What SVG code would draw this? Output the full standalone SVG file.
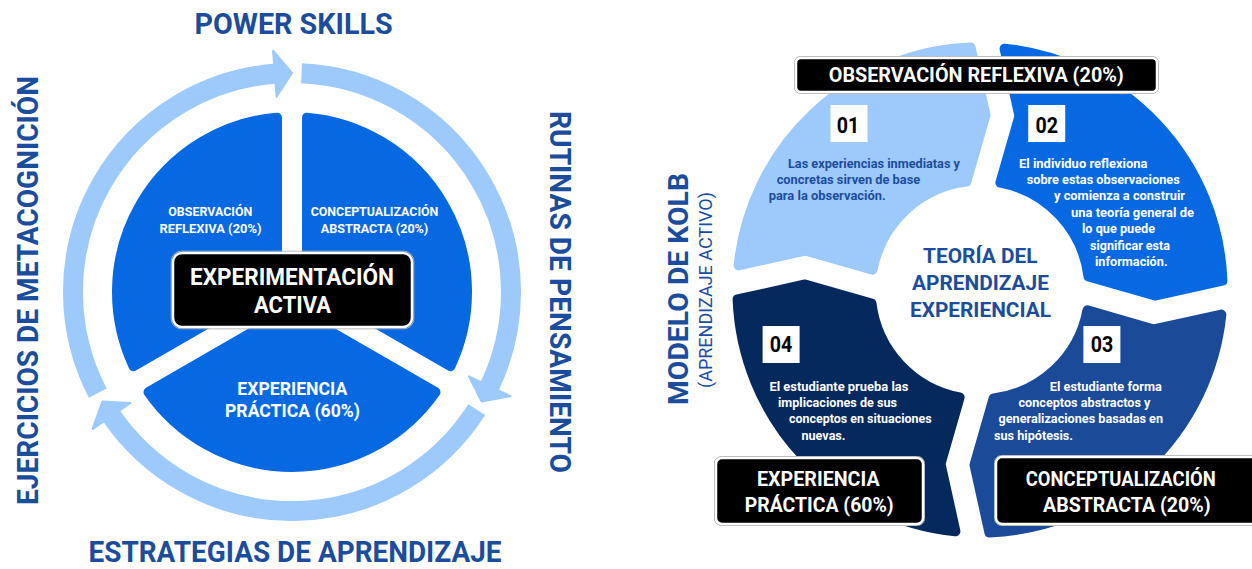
<svg xmlns="http://www.w3.org/2000/svg" width="1252" height="569" viewBox="0 0 1252 569">
<style>
.f{font-family:Roboto,"Liberation Sans",sans-serif;font-weight:700}
.n{font-family:Roboto,"Liberation Sans",sans-serif;font-weight:400}
.title{fill:#1c4d9c;font-size:29px}
.w{fill:#fff}
.k{fill:#000}
.mid{text-anchor:middle}
.ring{fill:none;stroke:#9dc9fb;stroke-width:20;stroke-linecap:butt}
.head{fill:#9dc9fb;stroke:#9dc9fb;stroke-width:2;stroke-linejoin:round}
.pie{fill:#0669e2;stroke:#0669e2;stroke-width:10;stroke-linejoin:round}
.bx{fill:#000;stroke:#fff;stroke-width:2.5}
.bxo{fill:none;stroke:#a9a9a9;stroke-width:1}
.body{font-size:12.5px}
.seg{stroke-width:10;stroke-linejoin:round}
</style>

<!-- LEFT DIAGRAM -->
<g id="title-power-skills"><text class="f title mid" x="293.6" y="34" textLength="198" lengthAdjust="spacingAndGlyphs">POWER SKILLS</text></g>
<g id="title-estrategias"><text class="f title mid" x="295" y="562" font-size="28" textLength="413" lengthAdjust="spacingAndGlyphs">ESTRATEGIAS DE APRENDIZAJE</text></g>
<g id="title-ejercicios"><text class="f title mid" transform="translate(37.5,290.5) rotate(-90)" x="0" y="0" textLength="429" lengthAdjust="spacingAndGlyphs">EJERCICIOS DE METACOGNICIÓN</text></g>
<g id="title-rutinas"><text class="f title mid" transform="translate(549.6,292) rotate(90)" x="0" y="0" textLength="362" lengthAdjust="spacingAndGlyphs">RUTINAS DE PENSAMIENTO</text></g>

<g id="connectors">
  <path class="ring" d="M 97.74,393.12 A 219 219 0 0 1 276.72,73.53"/>
  <polygon class="head" points="276.62,96.60 273.01,50.75 292,73"/>
  <path class="ring" d="M 301.55,73.21 A 219 219 0 0 1 488.84,388.00"/>
  <polygon class="head" points="468.91,376.38 510.43,396.18 481.66,401.5"/>
  <path class="ring" d="M 476.70,409.67 A 219 219 0 0 1 110.44,414.46"/>
  <polygon class="head" points="130.47,403.02 92.56,429.07 102.34,401.5"/>
</g>

<g id="pie-observacion">
  <path class="pie" d="M 277.0,283.34 L 133.50,366.18 A 175 175 0 0 1 276.99,117.64 Z"/>
  <text class="f w mid" font-size="13" x="210.3" y="216" textLength="84" lengthAdjust="spacingAndGlyphs">OBSERVACIÓN</text>
  <text class="f w mid" font-size="13" x="210.5" y="233.3" textLength="102" lengthAdjust="spacingAndGlyphs">REFLEXIVA (20%)</text>
</g>
<g id="pie-conceptualizacion">
  <path class="pie" d="M 307,283.34 L 307.01,117.64 A 175 175 0 0 1 450.50,366.18 Z"/>
  <text class="f w mid" font-size="13" x="374.5" y="216" textLength="127.6" lengthAdjust="spacingAndGlyphs">CONCEPTUALIZACIÓN</text>
  <text class="f w mid" font-size="13" x="374.5" y="233.3" textLength="107.6" lengthAdjust="spacingAndGlyphs">ABSTRACTA (20%)</text>
</g>
<g id="pie-experiencia">
  <path class="pie" d="M 292,309.32 L 435.49,392.17 A 175 175 0 0 1 148.51,392.17 Z"/>
  <text class="f w mid" font-size="19" x="292.3" y="395" textLength="110" lengthAdjust="spacingAndGlyphs">EXPERIENCIA</text>
  <text class="f w mid" font-size="19" x="292.5" y="417.3" textLength="135" lengthAdjust="spacingAndGlyphs">PRÁCTICA (60%)</text>
</g>
<g id="box-experimentacion">
  <rect class="bxo" x="171.2" y="251.2" width="242.6" height="77.6" rx="10"/>
  <rect class="bx" x="173" y="253" width="239" height="74" rx="9"/>
  <text class="f w mid" font-size="23.5" x="292" y="285" textLength="204" lengthAdjust="spacingAndGlyphs">EXPERIMENTACIÓN</text>
  <text class="f w mid" font-size="23.5" x="292.5" y="313.3" textLength="77" lengthAdjust="spacingAndGlyphs">ACTIVA</text>
</g>

<!-- RIGHT DIAGRAM -->
<g id="title-kolb">
  <text class="f mid" fill="#1c4d9c" font-size="28" transform="translate(688,289) rotate(-90)" x="0" y="0" textLength="232" lengthAdjust="spacingAndGlyphs">MODELO DE KOLB</text>
  <text class="n mid" fill="#1c4d9c" font-size="18" transform="translate(712,290) rotate(-90)" x="0" y="0" textLength="196" lengthAdjust="spacingAndGlyphs">(APRENDIZAJE ACTIVO)</text>
</g>

<g id="seg-01">
  <path class="seg" fill="#9dc9fb" stroke="#9dc9fb" d="M 738.65,265.41 A 242.6 242.6 0 0 1 970.61,47.59 L 985.50,115.09 L 966.40,181.52 A 109.3 109.3 0 0 0 872.58,269.62 L 805.16,250.52 Z"/>
  <rect x="830.5" y="105" width="37" height="37" fill="#fff"/>
  <text class="f k mid" font-size="22" x="848" y="133" textLength="22.5" lengthAdjust="spacingAndGlyphs">01</text>
  <g class="f body" fill="#1c4d9c">
    <text x="788" y="167.7" textLength="172" lengthAdjust="spacingAndGlyphs">Las experiencias inmediatas y</text>
    <text x="776.7" y="184" textLength="143.5" lengthAdjust="spacingAndGlyphs">concretas sirven de base</text>
    <text x="768.7" y="200" textLength="117" lengthAdjust="spacingAndGlyphs">para la observación.</text>
  </g>
</g>
<g id="seg-02">
  <path class="seg" fill="#0669e2" stroke="#0669e2" d="M 1004.59,48.65 A 242.6 242.6 0 0 1 1222.41,280.61 L 1154.91,295.50 L 1088.48,276.40 A 109.3 109.3 0 0 0 1000.38,182.58 L 1019.48,116.16 Z"/>
  <rect x="1028.2" y="105" width="37" height="37" fill="#fff"/>
  <text class="f k mid" font-size="22" x="1046.7" y="133" textLength="22.5" lengthAdjust="spacingAndGlyphs">02</text>
  <g class="f body w">
    <text x="1019" y="167.7" textLength="128.5" lengthAdjust="spacingAndGlyphs">El individuo reflexiona</text>
    <text x="1026.7" y="184" textLength="153" lengthAdjust="spacingAndGlyphs">sobre estas observaciones</text>
    <text x="1054" y="200" textLength="131" lengthAdjust="spacingAndGlyphs">y comienza a construir</text>
    <text x="1071" y="216.7" textLength="123" lengthAdjust="spacingAndGlyphs">una teoría general de</text>
    <text x="1082" y="233.3" textLength="73" lengthAdjust="spacingAndGlyphs">lo que puede</text>
    <text x="1090" y="250" textLength="80" lengthAdjust="spacingAndGlyphs">significar esta</text>
    <text x="1095" y="266" textLength="72.6" lengthAdjust="spacingAndGlyphs">información.</text>
  </g>
</g>
<g id="seg-03">
  <path class="seg" fill="#1b4a98" stroke="#1b4a98" d="M 1221.35,314.59 A 242.6 242.6 0 0 1 989.39,532.41 L 974.50,464.91 L 993.60,398.48 A 109.3 109.3 0 0 0 1087.42,310.38 L 1153.84,329.48 Z"/>
  <rect x="1083.4" y="326" width="37" height="37" fill="#fff"/>
  <text class="f k mid" font-size="22" x="1102" y="352" textLength="22.5" lengthAdjust="spacingAndGlyphs">03</text>
  <g class="f body w">
    <text x="1049.8" y="391" textLength="112" lengthAdjust="spacingAndGlyphs">El estudiante forma</text>
    <text x="1018.5" y="407.3" textLength="132" lengthAdjust="spacingAndGlyphs">conceptos abstractos y</text>
    <text x="998.5" y="423.3" textLength="164.5" lengthAdjust="spacingAndGlyphs">generalizaciones basadas en</text>
    <text x="994" y="440" textLength="79" lengthAdjust="spacingAndGlyphs">sus hipótesis.</text>
  </g>
</g>
<g id="seg-04">
  <path class="seg" fill="#05295d" stroke="#05295d" d="M 955.41,531.35 A 242.6 242.6 0 0 1 737.59,299.39 L 805.09,284.50 L 871.52,303.60 A 109.3 109.3 0 0 0 959.62,397.42 L 940.52,463.84 Z"/>
  <rect x="762.6" y="326" width="37" height="37" fill="#fff"/>
  <text class="f k mid" font-size="22" x="781" y="352" textLength="22.5" lengthAdjust="spacingAndGlyphs">04</text>
  <g class="f body w">
    <text x="769.4" y="391" textLength="139" lengthAdjust="spacingAndGlyphs">El estudiante prueba las</text>
    <text x="778" y="407.3" textLength="119" lengthAdjust="spacingAndGlyphs">implicaciones de sus</text>
    <text x="789" y="423.3" textLength="142.6" lengthAdjust="spacingAndGlyphs">conceptos en situaciones</text>
    <text x="801.5" y="440" textLength="44" lengthAdjust="spacingAndGlyphs">nuevas.</text>
  </g>
</g>

<g id="center-teoria">
  <text class="f mid" fill="#1c4d9c" font-size="21" x="980.3" y="263" textLength="114.6" lengthAdjust="spacingAndGlyphs">TEORÍA DEL</text>
  <text class="f mid" fill="#1c4d9c" font-size="21" x="980.5" y="290" textLength="137" lengthAdjust="spacingAndGlyphs">APRENDIZAJE</text>
  <text class="f mid" fill="#1c4d9c" font-size="21" x="980.5" y="317" textLength="141" lengthAdjust="spacingAndGlyphs">EXPERIENCIAL</text>
</g>

<g id="box-observacion">
  <rect class="bxo" x="794.5" y="56.5" width="364" height="37" rx="6"/>
  <rect class="bx" x="796" y="58" width="361" height="34" rx="5"/>
  <text class="f w mid" font-size="20" x="976.3" y="82.3" textLength="295" lengthAdjust="spacingAndGlyphs">OBSERVACIÓN REFLEXIVA (20%)</text>
</g>
<g id="box-experiencia">
  <rect class="bxo" x="714.5" y="456.5" width="210" height="69" rx="7"/>
  <rect class="bx" x="716" y="458" width="207" height="66" rx="6"/>
  <text class="f w mid" font-size="19.5" x="818.3" y="486" textLength="122.6" lengthAdjust="spacingAndGlyphs">EXPERIENCIA</text>
  <text class="f w mid" font-size="19.5" x="819.2" y="511.7" textLength="149" lengthAdjust="spacingAndGlyphs">PRÁCTICA (60%)</text>
</g>
<g id="box-conceptualizacion">
  <rect class="bxo" x="994.5" y="455.5" width="265" height="70" rx="7"/>
  <rect class="bx" x="996" y="457" width="262" height="67" rx="6"/>
  <text class="f w mid" font-size="19.5" x="1120.8" y="486" textLength="190" lengthAdjust="spacingAndGlyphs">CONCEPTUALIZACIÓN</text>
  <text class="f w mid" font-size="19.5" x="1126.8" y="511.7" textLength="167.6" lengthAdjust="spacingAndGlyphs">ABSTRACTA (20%)</text>
</g>
</svg>
